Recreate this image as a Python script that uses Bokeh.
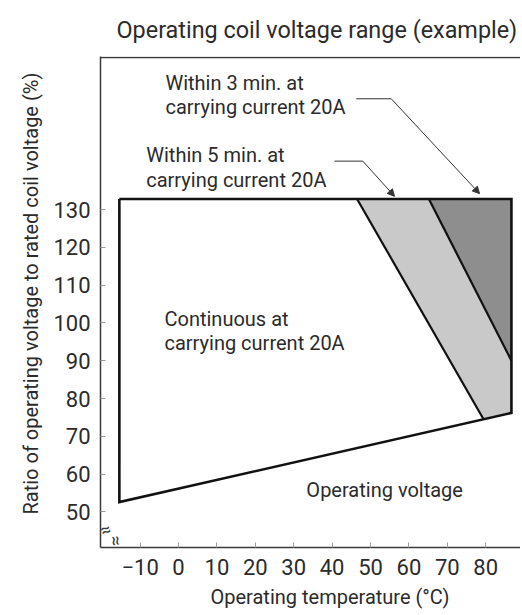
from bokeh.plotting import figure
from bokeh.models import FixedTicker, Label, Arrow, NormalHead, Span, Range1d, Title
from bokeh.embed import file_html
from bokeh.resources import INLINE

# ---- data ----
x_ticks = [-10, 0, 10, 20, 30, 40, 50, 60, 70, 80]
x_tick_labels = ["\u221210", "0", "10", "20", "30", "40", "50", "60", "70", "80"]
y_ticks = [50, 60, 70, 80, 90, 100, 110, 120, 130]
y_tick_labels = ["50", "60", "70", "80", "90", "100", "110", "120", "130"]

# upper limit of the range (top edge)
top_temp = [-15.4, 46.5, 65.2, 86.7]
top_volt = [132.8, 132.8, 132.8, 132.8]
# operating voltage (lower boundary)
op_temp = [-15.4, 79.4, 86.7]
op_volt = [52.6, 74.6, 76.2]
# boundary: continuous / within 5 min
five_temp = [46.5, 79.4]
five_volt = [132.8, 74.6]
# boundary: within 5 min / within 3 min
three_temp = [65.2, 86.7]
three_volt = [132.8, 90.0]

title_text = "Operating coil voltage range (example)"
x_label = "Operating temperature (\u00b0C)"
y_label = "Ratio of operating voltage to rated coil voltage (%)"

FONT = "Roboto"
TXT = "#2b2b2b"

p = figure(width=520, height=613,
           x_range=Range1d(-20.31, 89.06), y_range=Range1d(40.59, 170.48),
           output_backend="svg", toolbar_location=None,
           min_border_left=100, min_border_right=0,
           min_border_top=56, min_border_bottom=66)
p.outline_line_color = None
p.xgrid.visible = False
p.ygrid.visible = False
p.background_fill_color = "white"
p.border_fill_color = "white"

# title
p.title.text = title_text
p.title.text_font = FONT
p.title.text_font_size = "23.4px"
p.title.text_font_style = "normal"
p.title.text_color = TXT
p.title.align = "left"
p.title.offset = 16
p.title.standoff = 25

for ax, ticks, labels in ((p.xaxis, x_ticks, x_tick_labels), (p.yaxis, y_ticks, y_tick_labels)):
    ax.ticker = FixedTicker(ticks=ticks)
    ax.major_label_overrides = {t: l for t, l in zip(ticks, labels)}
    ax.axis_line_color = "#3a3a3a"
    ax.axis_line_width = 1.5
    ax.major_tick_in = 5
    ax.major_tick_out = 0
    ax.major_tick_line_color = "#9a9a9a"
    ax.major_tick_line_width = 1
    ax.minor_tick_line_color = None
    ax.major_label_text_font = FONT
    ax.major_label_text_font_size = "22px"
    ax.major_label_text_color = TXT
p.xaxis.major_label_standoff = 11
p.yaxis.major_label_standoff = 10

# axis titles (placed as titles so that they can be offset along the axis)
xt = Title(text=x_label, align="left", offset=110, standoff=10,
           text_font=FONT, text_font_size="20px", text_font_style="normal", text_color=TXT)
p.add_layout(xt, "below")
yt = Title(text=y_label, align="left", offset=33, standoff=16,
           text_font=FONT, text_font_size="20px", text_font_style="normal", text_color=TXT)
p.add_layout(yt, "left")

# top frame line
p.add_layout(Span(location=170.2, dimension="width", line_color="#3a3a3a", line_width=1.5))

# shaded bands
light_x = [five_temp[0], three_temp[0], three_temp[1], op_temp[2], five_temp[1]]
light_y = [five_volt[0], three_volt[0], three_volt[1], op_volt[2], five_volt[1]]
p.patch(light_x, light_y, fill_color="#c9c9c9", line_color=None)
dark_x = [three_temp[0], top_temp[3], three_temp[1]]
dark_y = [three_volt[0], top_volt[3], three_volt[1]]
p.patch(dark_x, dark_y, fill_color="#8e8e8e", line_color=None)

# outline of the range
outline_x = [top_temp[0], top_temp[3], op_temp[2], op_temp[0], top_temp[0]]
outline_y = [top_volt[0], top_volt[3], op_volt[2], op_volt[0], top_volt[0]]
p.line(outline_x, outline_y, line_color="#111111", line_width=2.6, line_join="miter")
p.line(five_temp, five_volt, line_color="#111111", line_width=2.2)
p.line(three_temp, three_volt, line_color="#111111", line_width=2.2)

# annotations
def txt(x, y, s):
    p.add_layout(Label(x=x, y=y, text=s, text_font=FONT, text_font_size="20px",
                       text_color=TXT, text_baseline="alphabetic", text_align="left"))

txt(-3.4, 163.5, "Within 3 min. at")
txt(-3.4, 157.2, "carrying current 20A")
txt(-8.4, 144.3, "Within 5 min. at")
txt(-8.4, 137.9, "carrying current 20A")
txt(-3.65, 101.1, "Continuous at")
txt(-3.65, 94.7, "carrying current 20A")
txt(33.3, 55.9, "Operating voltage")

# leader lines with arrows
p.line([46.3, 55.4], [159.3, 159.3], line_color="#333333", line_width=1)
p.add_layout(Arrow(x_start=55.4, y_start=159.3, x_end=78.4, y_end=134.2,
                   line_color="#333333", line_width=1,
                   end=NormalHead(size=7, fill_color="#333333", line_color="#333333")))
p.line([40.6, 48.0], [142.8, 142.8], line_color="#333333", line_width=1)
p.add_layout(Arrow(x_start=48.0, y_start=142.8, x_end=56.25, y_end=133.5,
                   line_color="#333333", line_width=1,
                   end=NormalHead(size=7, fill_color="#333333", line_color="#333333")))

# axis break marks (inside the frame)
p.add_layout(Label(x=-19.0, y=45.4, text="\u2248", text_font=FONT, text_font_size="18px",
                   text_color="#3a3a3a", text_align="center", text_baseline="middle", angle=0.35))
p.add_layout(Label(x=-16.6, y=42.3, text="\u2248", text_font=FONT, text_font_size="18px",
                   text_color="#3a3a3a", text_align="center", text_baseline="middle", angle=1.75))

open("out.html", "w").write(file_html(p, INLINE))
